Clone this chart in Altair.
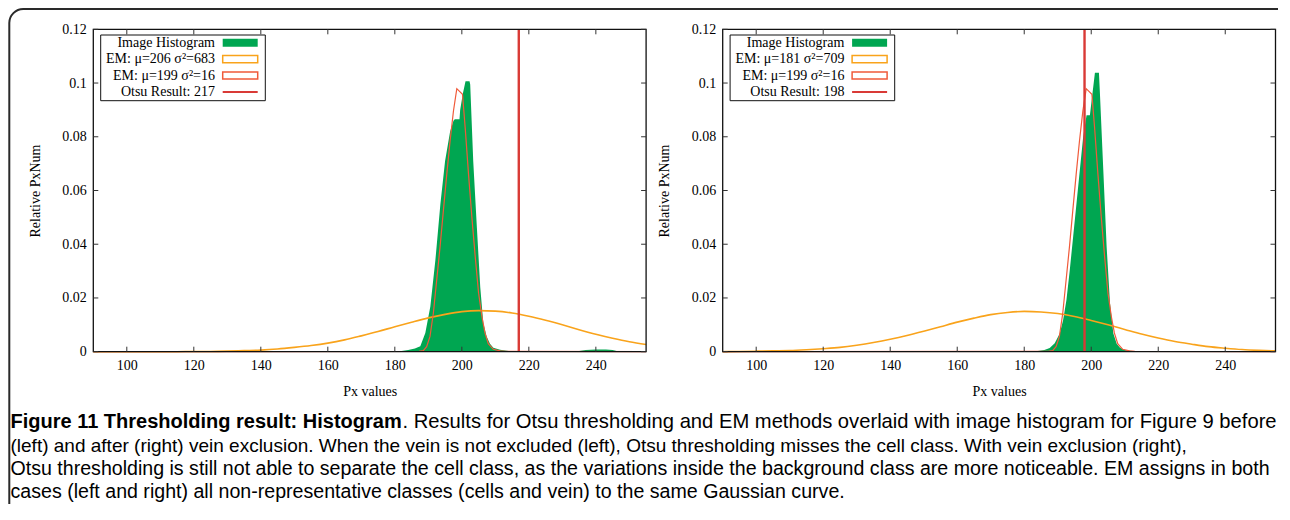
import altair as alt
import pandas as pd

# ---------------- data ----------------
x_ticks = [100, 120, 140, 160, 180, 200, 220, 240]
y_ticks = [0, 0.02, 0.04, 0.06, 0.08, 0.1, 0.12]
x_domain = [90, 255]
y_domain = [0, 0.12]

legend_left = ["Image Histogram", "EM: μ=206 σ²=683", "EM: μ=199 σ²=16", "Otsu Result: 217"]
legend_right = ["Image Histogram", "EM: μ=181 σ²=709", "EM: μ=199 σ²=16", "Otsu Result: 198"]
otsu_left = 217
otsu_right = 198

hist_left_x = [179.5, 182, 184, 186, 187.6, 189.1, 190.6, 192.1, 193.6, 195.0, 196.5, 197.5,
               197.9, 199.3, 199.5, 200.3, 201.1, 202.3, 202.5, 203.4, 204.5, 205.5, 206.4,
               207.4, 208.4, 209.4, 211.4, 214, 220, 230, 235, 237, 240, 243, 245, 246.5, 248]
hist_left_y = [0.0002, 0.0003, 0.0006, 0.0012, 0.002, 0.007, 0.0168, 0.034, 0.055, 0.071, 0.082, 0.086,
               0.0865, 0.0865, 0.090, 0.096, 0.1007, 0.1007, 0.0995, 0.071, 0.046, 0.024, 0.0107,
               0.0057, 0.003, 0.0015, 0.0007, 0.0003, 0.0002, 0.0001, 0.0003, 0.0006, 0.0008, 0.0008,
               0.0006, 0.0002, 0.0]

hist_right_x = [181, 184, 186, 187.6, 189.1, 190.6, 191.6, 192.6, 193.6, 194.6, 195.6, 196.6, 197.6,
                198.6, 199.6, 201.1, 202.3, 202.6, 203.6, 204.6, 205.6, 206.6, 207.6, 208.6, 210, 213, 216]
hist_right_y = [0.0001, 0.0003, 0.0006, 0.0014, 0.0031, 0.0068, 0.0117, 0.0192, 0.0304, 0.0428, 0.0552,
                0.0676, 0.080, 0.088, 0.088, 0.1038, 0.1038, 0.096, 0.0676, 0.039, 0.018, 0.0068,
                0.003, 0.0015, 0.0006, 0.0002, 0.0]

em_red_x = [90, 187.2, 188.5, 189.5, 190.5, 191.5, 192.5, 193.5, 194.5, 195.5, 196.5, 197.5, 198.5,
            200.2, 201.0, 202.0, 203.0, 204.0, 205.0, 206.0, 206.9, 207.9, 209.4, 211.4, 213, 255]
em_red_y = [0.0, 0.0001, 0.0004, 0.0019, 0.0057, 0.0143, 0.0267, 0.039, 0.0526, 0.066, 0.0785, 0.0896,
            0.0979, 0.0958, 0.0834, 0.066, 0.050, 0.0353, 0.0218, 0.0131, 0.007, 0.003, 0.0009,
            0.0003, 0.0001, 0.0]

orange_x = [90, 95, 100, 105, 110, 115, 120, 125, 130, 135, 140, 145, 150, 155, 160, 165, 170,
            175, 180, 185, 190, 195, 200, 205, 210, 215, 220, 225, 230, 235, 240, 245, 250, 255]
orange_left_y = [0.0, 0.0, 0.0, 0.0, 0.0, 0.0, 0.0001, 0.0001, 0.0002, 0.0004, 0.0006, 0.0010, 0.0016,
                 0.0023, 0.0032, 0.0044, 0.0059, 0.0075, 0.0093, 0.0110, 0.0126, 0.0139, 0.0149,
                 0.0153, 0.0151, 0.0144, 0.0132, 0.0117, 0.0100, 0.0082, 0.0065, 0.0050, 0.0037, 0.0027]
orange_right_y = [0.0, 0.0001, 0.0002, 0.0003, 0.0004, 0.0007, 0.0011, 0.0016, 0.0024, 0.0034, 0.0046,
                  0.0060, 0.0076, 0.0093, 0.0110, 0.0125, 0.0138, 0.0146, 0.0150, 0.0148, 0.0142,
                  0.0131, 0.0116, 0.0100, 0.0083, 0.0066, 0.0051, 0.0038, 0.0028, 0.0019, 0.0013,
                  0.0008, 0.0005, 0.0003]

caption_bold = "Figure 11 Thresholding result: Histogram"
caption_rest = (". Results for Otsu thresholding and EM methods overlaid with image histogram "
                "for Figure 9 before")
caption_lines = [
    "(left) and after (right) vein exclusion. When the vein is not excluded (left), Otsu thresholding "
    "misses the cell class. With vein exclusion (right),",
    "Otsu thresholding is still not able to separate the cell class, as the variations inside the "
    "background class are more noticeable. EM assigns in both",
    "cases (left and right) all non-representative classes (cells and vein) to the same Gaussian curve.",
]

# ---------------- styling / layout ----------------
W, H = 1270, 496
SERIF = "Liberation Serif"
SANS = "Liberation Sans"
GREEN = "#00a651"
ORANGE = "#f9a31b"
EMRED = "#f05a3a"
OTSU = "#d93a36"

PW = 552.8
Y_BOTTOM, Y_TOP = 343.7, 21.3
TL_Y = 0.12 * 5 / (Y_BOTTOM - Y_TOP)
TL_X = 165 * 5 / PW


def one(**kw):
    return pd.DataFrame({k: [v] for k, v in kw.items()})


def panel(pl, hx, hy, oy, otsu, labels):
    xs = alt.Scale(domain=x_domain, range=[pl, pl + PW], nice=False, zero=False)
    ys = alt.Scale(domain=y_domain, range=[Y_BOTTOM, Y_TOP], nice=False, zero=False)
    xaxis = alt.Axis(orient="bottom", offset=Y_BOTTOM - H, values=x_ticks, ticks=False, tickSize=0,
                     domain=False, grid=False, labelFont=SERIF, labelFontSize=14, labelColor="black",
                     labelPadding=7, title="Px values", titleFont=SERIF, titleFontSize=14,
                     titleFontWeight="normal", titleColor="black", titleY=39.5,
                     titleBaseline="middle")
    yaxis = alt.Axis(orient="left", offset=-pl, values=y_ticks,
                     labelExpr="format(datum.value, '.2~f')", ticks=False, tickSize=0,
                     domain=False, grid=False, labelFont=SERIF, labelFontSize=14, labelColor="black",
                     labelPadding=7, title="Relative PxNum", titleFont=SERIF, titleFontSize=14,
                     titleFontWeight="normal", titleColor="black", titleX=-58,
                     titleBaseline="middle")

    def X(f):
        return alt.X(f, type="quantitative", scale=xs, axis=xaxis)

    def Y(f):
        return alt.Y(f, type="quantitative", scale=ys, axis=yaxis)

    hist = alt.Chart(pd.DataFrame({"x": hx, "y": hy})).mark_area(
        color=GREEN, interpolate="linear").encode(x=X("x"), y=Y("y"))
    orange = alt.Chart(pd.DataFrame({"x": orange_x, "y": oy})).mark_line(
        color=ORANGE, strokeWidth=1.6, interpolate="monotone").encode(x=X("x"), y=Y("y"))
    red = alt.Chart(pd.DataFrame({"x": em_red_x, "y": em_red_y})).mark_line(
        color=EMRED, strokeWidth=1.2).encode(x=X("x"), y=Y("y"))
    otsu_rule = alt.Chart(one(x=otsu, y=y_domain[0], y2=y_domain[1])).mark_rule(
        color=OTSU, strokeWidth=2.4).encode(x=X("x"), y=Y("y"), y2="y2")
    frame = alt.Chart(one(x=x_domain[0], x2=x_domain[1], y=y_domain[0], y2=y_domain[1])).mark_rect(
        fill="white", fillOpacity=0, stroke="#111", strokeWidth=1.3).encode(
        x=X("x"), x2="x2", y=Y("y"), y2="y2")
    tb = pd.DataFrame({"x": x_ticks, "y": [y_domain[0]] * len(x_ticks),
                       "y2": [y_domain[0] + TL_Y] * len(x_ticks)})
    tt = pd.DataFrame({"x": x_ticks, "y": [y_domain[1]] * len(x_ticks),
                       "y2": [y_domain[1] - TL_Y] * len(x_ticks)})
    tl = pd.DataFrame({"y": y_ticks, "x": [x_domain[0]] * len(y_ticks),
                       "x2": [x_domain[0] + TL_X] * len(y_ticks)})
    tr = pd.DataFrame({"y": y_ticks, "x": [x_domain[1]] * len(y_ticks),
                       "x2": [x_domain[1] - TL_X] * len(y_ticks)})
    tick_layers = [
        alt.Chart(tb).mark_rule(color="#333", strokeWidth=1).encode(x=X("x"), y=Y("y"), y2="y2"),
        alt.Chart(tt).mark_rule(color="#333", strokeWidth=1).encode(x=X("x"), y=Y("y"), y2="y2"),
        alt.Chart(tl).mark_rule(color="#333", strokeWidth=1).encode(x=X("x"), x2="x2", y=Y("y")),
        alt.Chart(tr).mark_rule(color="#333", strokeWidth=1).encode(x=X("x"), x2="x2", y=Y("y")),
    ]

    # legend box (gnuplot style: labels right-aligned, sample to the right)
    rows = [34.7, 51.1, 67.5, 83.9]
    sx0, sx1 = pl + 129.4, pl + 164.4
    leg = [alt.Chart(one(a=0)).mark_rect(fill="white", stroke="#111", strokeWidth=1).encode(
        x=alt.value(pl + 7.4), x2=alt.value(pl + 172), y=alt.value(27), y2=alt.value(92.7))]
    for i, lab in enumerate(labels):
        leg.append(alt.Chart(one(t=lab)).mark_text(
            align="right", baseline="middle", font=SERIF, fontSize=14, color="black").encode(
            text="t:N", x=alt.value(pl + 121.7), y=alt.value(rows[i])))
    leg.append(alt.Chart(one(a=0)).mark_rect(color=GREEN).encode(
        x=alt.value(sx0), x2=alt.value(sx1), y=alt.value(rows[0] - 4), y2=alt.value(rows[0] + 4)))
    leg.append(alt.Chart(one(a=0)).mark_rect(fill="white", stroke=ORANGE, strokeWidth=1.5).encode(
        x=alt.value(sx0), x2=alt.value(sx1), y=alt.value(rows[1] - 3.6), y2=alt.value(rows[1] + 3.6)))
    leg.append(alt.Chart(one(a=0)).mark_rect(fill="white", stroke=EMRED, strokeWidth=1.5).encode(
        x=alt.value(sx0), x2=alt.value(sx1), y=alt.value(rows[2] - 3.6), y2=alt.value(rows[2] + 3.6)))
    leg.append(alt.Chart(one(a=0)).mark_rule(color=OTSU, strokeWidth=2).encode(
        x=alt.value(sx0), x2=alt.value(sx1), y=alt.value(rows[3])))

    return alt.layer(hist, orange, red, otsu_rule, frame, *tick_layers, *leg)


left = panel(85.3, hist_left_x, hist_left_y, orange_left_y, otsu_left, legend_left)
right = panel(714.7, hist_right_x, hist_right_y, orange_right_y, otsu_right, legend_right)

outer = alt.Chart(one(a=0)).mark_rect(
    fill="white", fillOpacity=0, stroke="#2a2a2a", strokeWidth=2, cornerRadius=14).encode(
    x=alt.value(1.3), x2=alt.value(W + 40), y=alt.value(1), y2=alt.value(H + 40))

BOLD_SIZE = 20
CAP_SIZE = 20.2
LINE_SIZES = [19.0, 19.6, 19.6]
cap_y = [414, 438, 461, 484]
cap_x0 = 2.5
caption = [
    alt.Chart(one(t=caption_bold)).mark_text(
        align="left", baseline="middle", font=SANS, fontSize=BOLD_SIZE, fontWeight="bold",
        color="black").encode(text="t:N", x=alt.value(cap_x0), y=alt.value(cap_y[0])),
    alt.Chart(one(t=caption_rest)).mark_text(
        align="left", baseline="middle", font=SANS, fontSize=CAP_SIZE, color="black").encode(
        text="t:N", x=alt.value(394.5), y=alt.value(cap_y[0])),
]
for i, line in enumerate(caption_lines):
    caption.append(alt.Chart(one(t=line)).mark_text(
        align="left", baseline="middle", font=SANS, fontSize=LINE_SIZES[i], color="black").encode(
        text="t:N", x=alt.value(cap_x0), y=alt.value(cap_y[i + 1])))

chart = alt.layer(outer, left, right, *caption).resolve_scale(
    x="independent", y="independent").properties(
    width=W, height=H, autosize=alt.AutoSizeParams(type="none"), padding=0,
    background="white").configure_view(stroke="transparent")

chart.save("out.html", embed_options={"renderer": "svg", "actions": False})
